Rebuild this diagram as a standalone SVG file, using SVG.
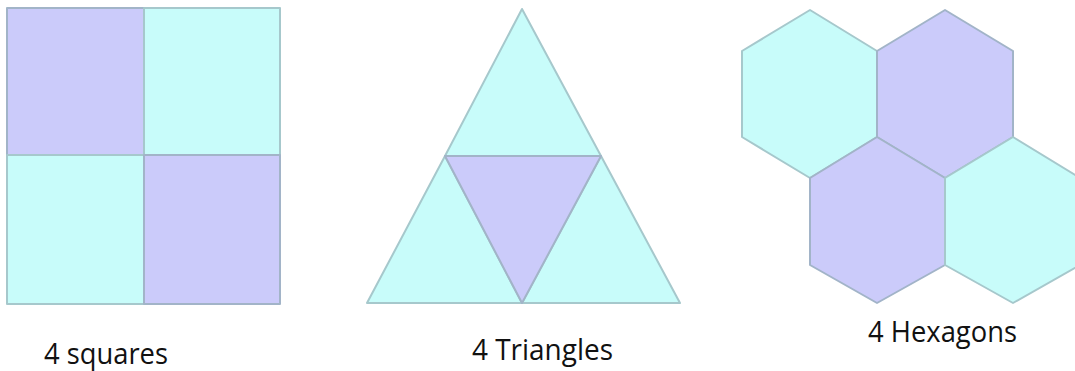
<svg xmlns="http://www.w3.org/2000/svg" width="1075" height="371" viewBox="0 0 1075 371">
<style>
.p{fill:#cbcbfa;stroke:#a2b4c8;stroke-width:2;stroke-linejoin:round}
.c{fill:#c8fcfa;stroke:#a6c8cc;stroke-width:2;stroke-linejoin:round}
.t{font-family:"Open Sans",Lato,sans-serif;font-size:29px;fill:#111}
</style>
<rect width="1075" height="371" fill="#fff"/>
<g id="squares">
<rect class="p" x="7" y="8" width="137" height="147"/>
<rect class="c" x="144" y="8" width="136" height="147"/>
<rect class="c" x="7" y="155" width="137" height="149"/>
<rect class="p" x="144" y="155" width="136" height="149"/>
</g>
<g id="triangles">
<polygon class="c" points="522,9 601,156 445,156"/>
<polygon class="c" points="445,156 522,303 367,303"/>
<polygon class="c" points="601,156 680,303 522,303"/>
<polygon class="p" points="445,156 601,156 522,303"/>
</g>
<g id="hexagons">
<polygon class="c" points="810,10 877,51 877,137 810,178 742,137 742,51"/>
<polygon class="p" points="945,10 1013,51 1013,137 945,178 877,137 877,51"/>
<polygon class="p" points="877,137 945,178 945,265 877,303 810,265 810,178"/>
<polygon class="c" points="1013,137 1080,178 1080,265 1013,303 945,265 945,178"/>
</g>
<g id="labels">
<text class="t" x="44" y="364" textLength="124" lengthAdjust="spacingAndGlyphs">4 squares</text>
<text class="t" x="472" y="360" textLength="141" lengthAdjust="spacingAndGlyphs">4 Triangles</text>
<text class="t" x="868" y="342" textLength="149" lengthAdjust="spacingAndGlyphs">4 Hexagons</text>
</g>
</svg>
